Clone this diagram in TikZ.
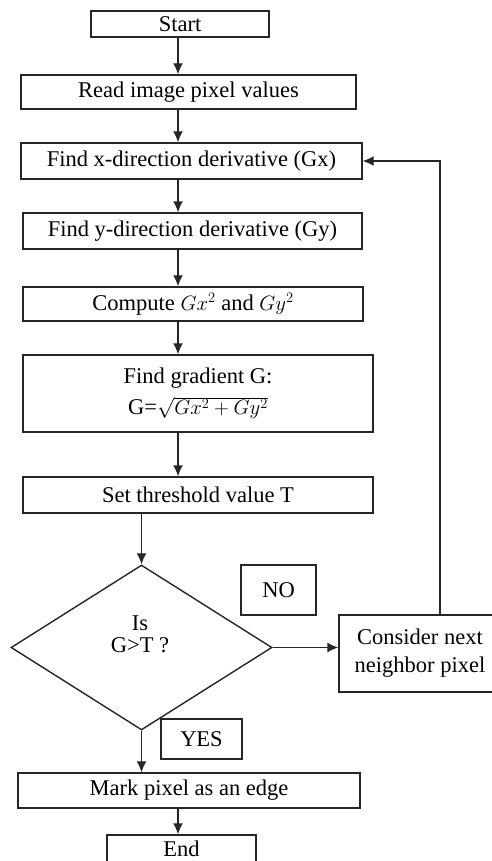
\documentclass[tikz,border=0pt]{standalone}
\usepackage{fontspec}
\setmainfont{Liberation Serif}
\usetikzlibrary{arrows.meta,positioning,shapes.geometric}

\begin{document}
\begin{tikzpicture}[
      x=1pt, y=-1pt,
      box/.style={draw=black!85, line width=1.4pt, inner sep=2pt, align=center,
        font=\fontsize{22.5}{28}\selectfont},
      decision/.style={diamond, draw=black!85, line width=1.4pt, inner sep=0pt,
        minimum width=261pt, minimum height=165pt},
      arr/.style={-{Latex[length=11pt,width=10pt]}, line width=1.4pt, draw=black!85}
    ]
      \useasboundingbox (0,0) rectangle (492,861);
      \clip (0,0) rectangle (492,861);
      \coordinate (axis) at (178,0);
      \coordinate (loop) at (440,0);

      \node[box, minimum width=178pt, minimum height=26pt] (start) at (180,24) {Start};
      \node[box, minimum width=335pt, minimum height=34pt] (read) at (188.5,92) {Read image pixel values};
      \node[box, minimum width=341pt, minimum height=36pt] (findx) at (191.5,161) {Find x-direction derivative (Gx)};
      \node[box, minimum width=339pt, minimum height=36pt] (findy) at (192.5,231) {Find y-direction derivative (Gy)};
      \node[box, minimum width=340pt, minimum height=34pt] (comp) at (193,304) {Compute $Gx^2$ and $Gy^2$};
      \node[box, minimum width=350pt, minimum height=77pt] (grad) at (198,393.5) {Find gradient G:\\[3pt]G=$\sqrt{Gx^2+Gy^2}$};
      \node[box, minimum width=350pt, minimum height=36pt] (thresh) at (198,495) {Set threshold value T};
      \node[decision] (dec) at (141.5,647.5) {};
      \node[align=center, font=\fontsize{22.5}{22}\selectfont] (dectext) at (140,634) {Is\\G>T ?};
      \node[box, minimum width=75pt, minimum height=50pt] (no) at (278.5,590) {NO};
      \node[box, minimum width=162pt, minimum height=77pt] (next) at (420,653.5) {Consider next\\neighbor pixel};
      \node[box, minimum width=81pt, minimum height=40pt] (yes) at (201.5,739) {YES};
      \node[box, minimum width=342pt, minimum height=35pt] (mark) at (189,790.5) {Mark pixel as an edge};
      \node[box, minimum width=149pt, minimum height=28pt] (end) at (181.5,849) {End};

      \draw[arr] (start.south -| axis) -- (read.north -| axis);
      \draw[arr] (read.south -| axis) -- (findx.north -| axis);
      \draw[arr] (findx.south -| axis) -- (findy.north -| axis);
      \draw[arr] (findy.south -| axis) -- (comp.north -| axis);
      \draw[arr] (comp.south -| axis) -- (grad.north -| axis);
      \draw[arr] (grad.south -| axis) -- (thresh.north -| axis);
      \draw[arr] (thresh.south -| dec.north) -- (dec.north);
      \draw[arr] (dec.east) -- (dec.east -| next.west);
      \draw[arr] (next.north -| loop) -- (loop |- findx.east) -- (findx.east);
      \draw[arr] (dec.south) -- (dec.south |- mark.north);
      \draw[arr] (mark.south -| axis) -- (end.north -| axis);
    \end{tikzpicture}
\end{document}
